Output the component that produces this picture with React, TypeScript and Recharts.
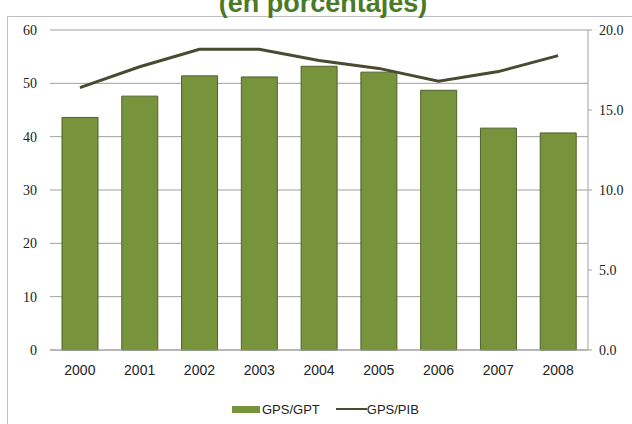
import React from 'react';
import { ComposedChart, Bar, Line, XAxis, YAxis, CartesianGrid } from 'recharts';

const years = ['2000', '2001', '2002', '2003', '2004', '2005', '2006', '2007', '2008'];
const gpsGpt = [43.6, 47.6, 51.4, 51.2, 53.2, 52.1, 48.7, 41.6, 40.7];
const gpsPib = [16.4, 17.7, 18.8, 18.8, 18.1, 17.6, 16.8, 17.4, 18.4];
const leftTicks = [0, 10, 20, 30, 40, 50, 60];
const rightTicks = [0, 5, 10, 15, 20];

const data = years.map((year, i) => ({ year, gpt: gpsGpt[i], pib: gpsPib[i] }));

const BAR = '#77933C';
const LINE = '#4A4A33';
const GRID = '#a0a0a0';
const serifTick = { fontFamily: 'Liberation Serif', fontSize: 14, fill: '#222' };
const sansTick = { fontFamily: 'Liberation Sans', fontSize: 14, fill: '#222' };

export default function App() {
    return (
        <div style={{ position: 'fixed', left: 0, top: 0, width: 632, height: 424, background: '#fff', overflow: 'hidden' }}>
            <div style={{ position: 'absolute', left: 7, top: 16, width: 700, height: 500, borderLeft: '1px solid #bfbfbf', borderTop: '1px solid #bfbfbf' }} />
            <div style={{ position: 'absolute', left: 0, width: 646, top: -12, textAlign: 'center', fontFamily: 'Liberation Sans', fontWeight: 'bold', fontSize: 27, color: '#4A7A25', lineHeight: '30px' }}>
                (en porcentajes)
            </div>
            <div style={{ position: 'absolute', left: 0, top: 0 }}>
                <ComposedChart width={632} height={424} data={data} margin={{ top: 30, right: 0, bottom: 44, left: 0 }}>
                    <CartesianGrid vertical={false} stroke={GRID} yAxisId="left" />
                    <XAxis dataKey="year" tickLine={false} axisLine={{ stroke: GRID }} tick={sansTick} tickMargin={9} height={30} />
                    <YAxis yAxisId="left" domain={[0, 60]} ticks={leftTicks} width={50} axisLine={false} tickLine={false} tickMargin={7} tick={serifTick} />
                    <YAxis yAxisId="right" orientation="right" domain={[0, 20]} ticks={rightTicks} width={44}
                        tickFormatter={(v: number) => v.toFixed(1)} axisLine={{ stroke: GRID }} tickLine={{ stroke: GRID }} tickSize={4} tickMargin={7} tick={serifTick} />
                    <Bar yAxisId="left" dataKey="gpt" fill={BAR} stroke="#4F6228" strokeWidth={1} barSize={36} isAnimationActive={false} />
                    <Line yAxisId="right" dataKey="pib" stroke={LINE} strokeWidth={3} dot={false} isAnimationActive={false} />
                </ComposedChart>
            </div>
            <div style={{ position: 'absolute', top: 401, left: 232, height: 16, display: 'flex', alignItems: 'center', fontFamily: 'Liberation Sans', fontSize: 13, color: '#222' }}>
                <span style={{ display: 'inline-block', width: 28, height: 7, background: BAR, marginRight: 2 }} />
                <span>GPS/GPT</span>
                <span style={{ display: 'inline-block', width: 31, height: 2, background: LINE, marginLeft: 16 }} />
                <span>GPS/PIB</span>
            </div>
        </div>
    );
}
